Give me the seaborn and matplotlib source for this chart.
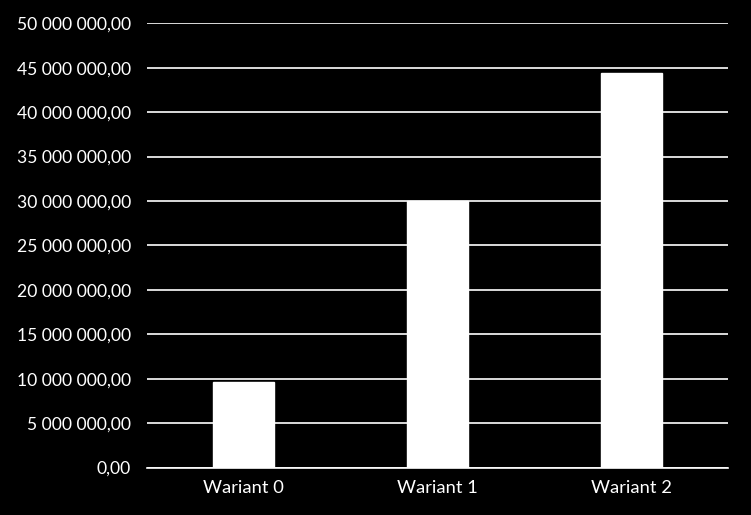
import matplotlib
matplotlib.use("Agg")
import matplotlib.pyplot as plt
import seaborn as sns
import pandas as pd
from matplotlib.ticker import FuncFormatter, MultipleLocator

# --- Data ---
variants = ["Wariant 0", "Wariant 1", "Wariant 2"]
values = [9_630_000, 30_000_000, 44_450_000]

df = pd.DataFrame({"variant": variants, "value": values})

sns.set_theme(style="dark")
plt.rcParams["font.family"] = ["Lato", "DejaVu Sans"]


def pl_format(x, pos):
    s = f"{x:,.2f}"
    return s.replace(",", " ").replace(".", ",")


fig = plt.figure(figsize=(7.51, 5.15), dpi=100, facecolor="black")
ax = fig.add_axes([0.1957, 0.0922, 0.7737, 0.8626])
ax.set_facecolor("black")

sns.barplot(data=df, x="variant", y="value", color="white", width=0.315,
            saturation=1, ax=ax, zorder=3)

ax.set_ylim(0, 50_000_000)
ax.yaxis.set_major_locator(MultipleLocator(5_000_000))
ax.yaxis.set_major_formatter(FuncFormatter(pl_format))
ax.grid(axis="y", color="white", linewidth=1.2, zorder=0)
ax.grid(axis="x", visible=False)

for side in ["top", "right", "left"]:
    ax.spines[side].set_visible(False)
ax.spines["bottom"].set_color("white")
ax.spines["bottom"].set_linewidth(1.2)

ax.tick_params(axis="both", colors="white", length=0)
ax.tick_params(axis="y", pad=11.5, labelsize=12.6)
ax.tick_params(axis="x", pad=9, labelsize=13.2)
ax.set_xlabel("")
ax.set_ylabel("")

fig.savefig("out.png", dpi=100, facecolor="black")
